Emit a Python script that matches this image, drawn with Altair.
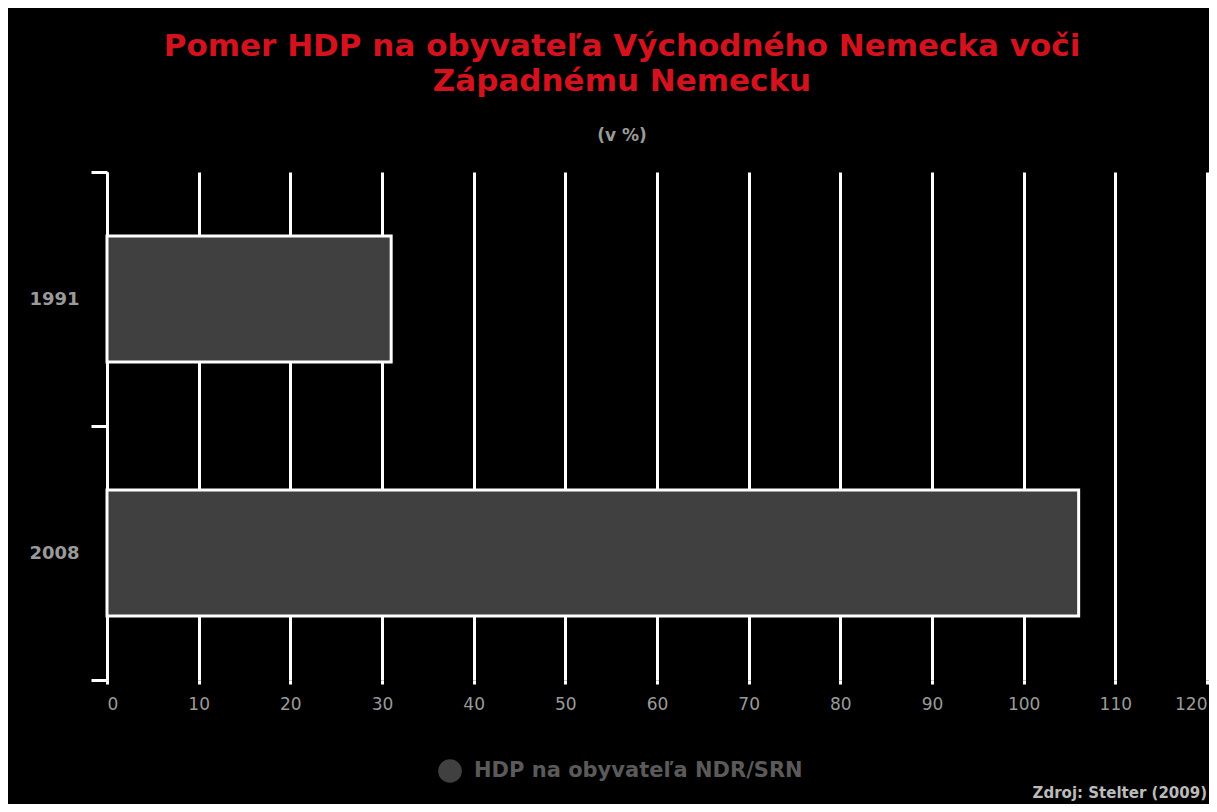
import altair as alt
import pandas as pd

years = ["1991", "2008"]
values = [31, 106]
series_name = "HDP na obyvateľa NDR/SRN"
x_ticks = [0, 10, 20, 30, 40, 50, 60, 70, 80, 90, 100, 110, 120]
title_lines = ["Pomer HDP na obyvateľa Východného Nemecka voči", "Západnému Nemecku"]
subtitle = "(v %)"
source = "Zdroj: Stelter (2009)"

FONT = "DejaVu Sans"

df = pd.DataFrame({"year": years, "value": values, "series": [series_name] * len(years)})
src_df = pd.DataFrame({"t": [source]})

bars = alt.Chart(df).mark_bar(stroke="white", strokeWidth=3, size=126).encode(
    x=alt.X("value:Q",
            scale=alt.Scale(domain=[0, 120], nice=False),
            axis=alt.Axis(values=x_ticks, grid=True, gridColor="white", gridWidth=3,
                          gridOpacity=1, domain=False, ticks=True, tickColor="white",
                          tickWidth=3, tickSize=4, labelColor="#9a9a9a", labelFontSize=17,
                          labelFont=FONT, labelPadding=12, title=None)),
    y=alt.Y("year:N",
            scale=alt.Scale(paddingInner=0, paddingOuter=0),
            axis=alt.Axis(title=None, domainColor="white", domainWidth=3, tickColor="white",
                          tickWidth=3, tickSize=16, tickBand="extent", labelColor="#9a9a9a",
                          labelFontSize=18, labelFont=FONT, labelFontWeight="bold",
                          labelPadding=12, grid=False)),
    color=alt.Color("series:N", scale=alt.Scale(range=["#404040"]),
                    legend=alt.Legend(title=None, orient="none", legendX=331, legendY=587,
                                      symbolType="circle", symbolSize=560, labelFontSize=21,
                                      labelFont=FONT, labelLimit=0, labelOffset=12,
                                      labelColor="#5a5a5a", symbolStrokeWidth=0,
                                      labelFontWeight="bold")),
)

src = alt.Chart(src_df).mark_text(align="right", baseline="middle", fontSize=15,
                                  font=FONT, fontWeight="bold", color="#bbbbbb").encode(
    x=alt.value(1100), y=alt.value(621), text="t:N")

chart = alt.layer(bars, src).properties(
    width=1100, height=508,
    autosize=alt.AutoSizeParams(type="none"),
    padding={"left": 99, "top": 164, "right": 2, "bottom": 124},
    title=alt.TitleParams(text=title_lines, subtitle=subtitle, color="#d4121e", fontSize=31,
                          fontWeight="bold", font=FONT, lineHeight=35,
                          subtitleColor="#9a9a9a", subtitleFontSize=17, subtitleFont=FONT,
                          subtitleFontWeight="bold", subtitlePadding=30, anchor="middle",
                          offset=18, dx=-35),
).configure(background="black", font=FONT).configure_view(stroke=None)

chart.save("out.html", embed_options={"renderer": "svg", "actions": False})
